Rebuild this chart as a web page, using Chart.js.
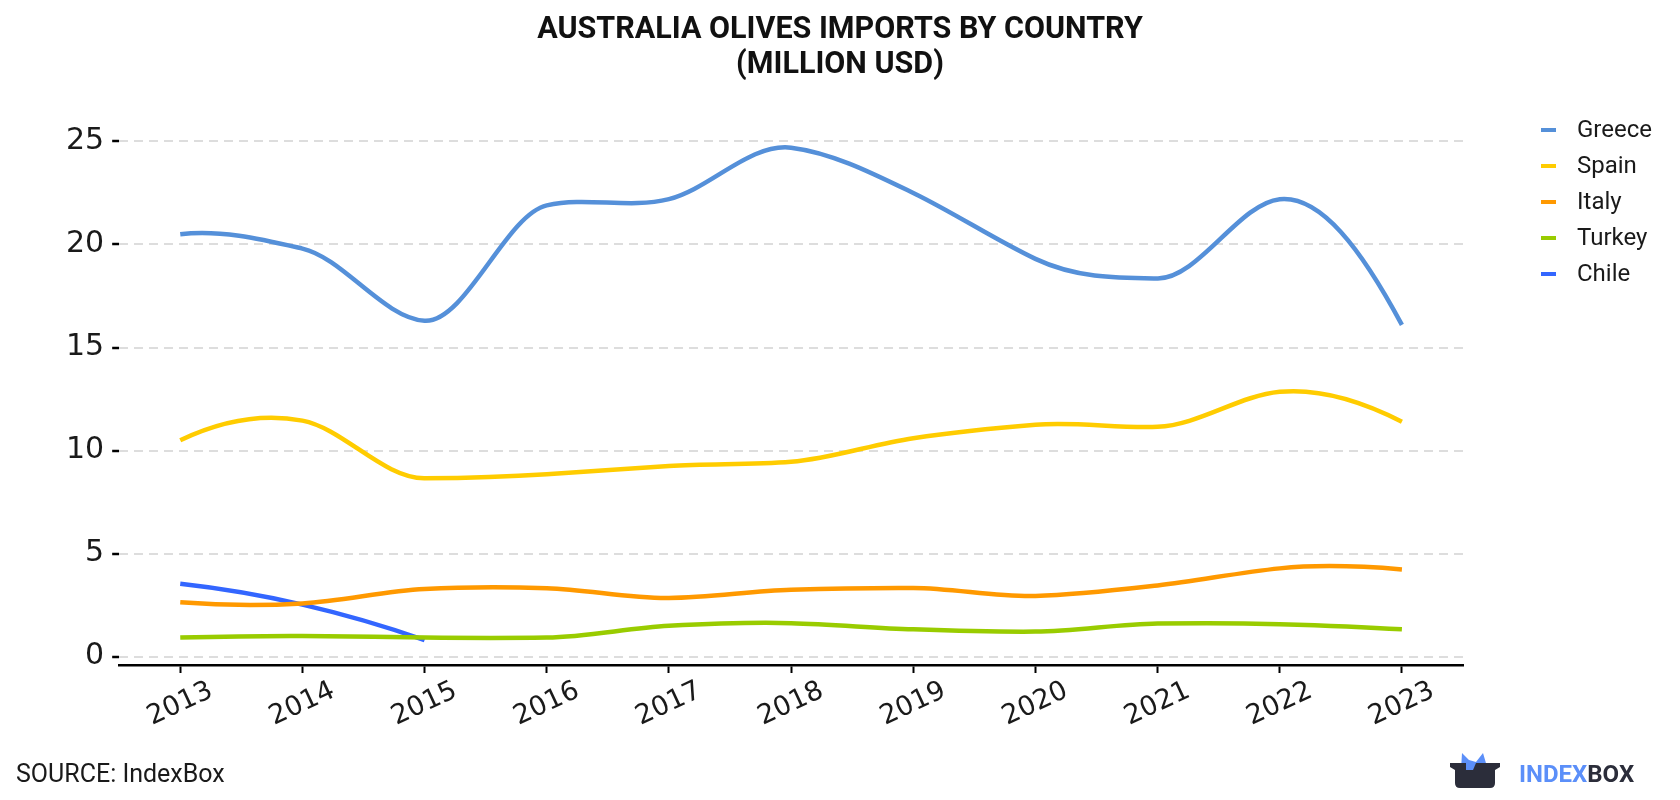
<!DOCTYPE html>
<html>
<head>
<meta charset="utf-8">
<title>Australia Olives Imports by Country</title>
<script src="https://cdn.jsdelivr.net/npm/chart.js@4/dist/chart.umd.min.js"></script>
<style>
  html, body { margin: 0; padding: 0; background: #fff; }
  #wrap { width: 1680px; height: 800px; }
</style>
</head>
<body>
<div id="wrap"><canvas id="chart" width="1680" height="800"></canvas></div>
<script>
// values (million USD)
const years = ['2013', '2014', '2015', '2016', '2017', '2018', '2019', '2020', '2021', '2022', '2023'];
const greece = [20.5, 19.8, 16.3, 21.9, 22.2, 24.7, 22.5, 19.3, 18.35, 22.2, 16.1];
const spain = [10.5, 11.45, 8.65, 8.85, 9.25, 9.45, 10.6, 11.25, 11.15, 12.85, 11.4];
const italy = [2.63, 2.58, 3.28, 3.32, 2.84, 3.24, 3.33, 2.94, 3.45, 4.28, 4.23];
const turkey = [0.92, 1.0, 0.92, 0.92, 1.49, 1.62, 1.32, 1.21, 1.6, 1.57, 1.32];
const chile = [3.53, 2.52, 0.8];
const yTicks = [0, 5, 10, 15, 20, 25];

const seriesNames = ['Greece', 'Spain', 'Italy', 'Turkey', 'Chile'];
const seriesColors = ['#5590d9', '#ffcc00', '#ff9900', '#99cc00', '#3366ff'];
const seriesData = [greece, spain, italy, turkey, chile];
const titleLines = ['AUSTRALIA OLIVES IMPORTS BY COUNTRY', '(MILLION USD)'];

const ctx = document.getElementById('chart');

// the reference curves look like an Akima spline, so the bezier control
// points of chart.js's own line are replaced with Akima tangents
const akimaCurves = {
    id: 'akimaCurves',
    beforeDatasetsDraw(chart) {
        chart.data.datasets.forEach((ds, di) => {
            const meta = chart.getDatasetMeta(di);
            const pts = meta.data.filter(p => !p.skip);
            const n = pts.length;
            if (n < 3) return;
            const m = [];
            for (let i = 0; i < n - 1; i++) {
                m.push((pts[i + 1].y - pts[i].y) / (pts[i + 1].x - pts[i].x));
            }
            // extend the slopes two steps on each side
            const mm = m.slice();
            const a = 2 * m[0] - m[1];
            const b = 2 * a - m[0];
            const c1 = 2 * m[n - 2] - m[n - 3];
            const c2 = 2 * c1 - m[n - 2];
            mm.unshift(b, a);
            mm.push(c1, c2);
            // slope j in m is mm[j + 2]
            const t = [];
            for (let i = 0; i < n; i++) {
                const m1 = mm[i], m2 = mm[i + 1], m3 = mm[i + 2], m4 = mm[i + 3];
                const w1 = Math.abs(m4 - m3), w2 = Math.abs(m2 - m1);
                t.push(w1 + w2 === 0 ? (m2 + m3) / 2 : (w1 * m2 + w2 * m3) / (w1 + w2));
            }
            for (let i = 0; i < n; i++) {
                const p = pts[i];
                const hPrev = i > 0 ? (p.x - pts[i - 1].x) / 3 : 0;
                const hNext = i < n - 1 ? (pts[i + 1].x - p.x) / 3 : 0;
                p.cp1x = p.x - hPrev;
                p.cp1y = p.y - t[i] * hPrev;
                p.cp2x = p.x + hNext;
                p.cp2y = p.y + t[i] * hNext;
            }
            meta.dataset._pointsUpdated = true;
            meta.dataset._path = undefined;
        });
    }
};

// title, legend, source line and logo drawn on the canvas around the chart
const extras = {
    id: 'extras',
    afterDraw(chart) {
        const c = chart.ctx;
        const area = chart.chartArea;
        c.save();
        // title, centred on the whole canvas
        c.fillStyle = '#111';
        c.font = 'bold 30.5px Roboto';
        c.textAlign = 'center';
        c.textBaseline = 'middle';
        titleLines.forEach((t, i) => c.fillText(t, chart.width / 2, 30 + i * 35));
        // legend
        const lx = area.right + 78;
        c.textAlign = 'left';
        chart.data.datasets.forEach((ds, i) => {
            const ly = area.top + 25 + i * 36;
            c.strokeStyle = ds.borderColor;
            c.lineWidth = 4;
            c.beginPath();
            c.moveTo(lx, ly);
            c.lineTo(lx + 15, ly);
            c.stroke();
            c.fillStyle = '#1a1a1a';
            c.font = '24px Roboto';
            c.fillText(ds.label, lx + 36, ly + 1);
        });
        // source
        c.fillStyle = '#1a1a1a';
        c.font = '25px Roboto';
        c.fillText('SOURCE: IndexBox', 16, 776);
        // logo icon
        c.fillStyle = '#5b8ff9';
        c.beginPath();
        c.moveTo(1461, 770);
        c.lineTo(1462, 753);
        c.lineTo(1469, 760);
        c.lineTo(1476, 762);
        c.lineTo(1483, 753);
        c.lineTo(1488, 770);
        c.closePath();
        c.fill();
        c.fillStyle = '#2b2d3a';
        c.beginPath();
        c.moveTo(1450, 763);
        c.lineTo(1500, 763);
        c.lineTo(1500, 767);
        c.lineTo(1495, 770);
        c.lineTo(1495, 783);
        c.quadraticCurveTo(1495, 788, 1490, 788);
        c.lineTo(1460, 788);
        c.quadraticCurveTo(1455, 788, 1455, 783);
        c.lineTo(1455, 770);
        c.lineTo(1450, 767);
        c.closePath();
        c.fill();
        c.fillStyle = '#5b8ff9';
        c.beginPath();
        c.moveTo(1466, 763);
        c.lineTo(1476, 763);
        c.lineTo(1473, 770);
        c.lineTo(1466, 770);
        c.closePath();
        c.fill();
        // logo text
        c.font = 'bold 24px Roboto';
        c.fillStyle = '#5b8ff9';
        c.fillText('INDEX', 1519, 776);
        const w = c.measureText('INDEX').width;
        c.fillStyle = '#2b2d3a';
        c.fillText('BOX', 1519 + w, 776);
        c.restore();
    }
};

const mainChart = new Chart(ctx, {
    type: 'line',
    data: {
        labels: years,
        datasets: seriesNames.map((name, i) => ({
            label: name,
            data: seriesData[i],
            borderColor: seriesColors[i],
            backgroundColor: 'transparent',
            borderWidth: 4.5,
            pointRadius: 0,
            tension: 0.4,
            fill: false,
        })),
    },
    options: {
        responsive: false,
        animation: false,
        devicePixelRatio: 1,
        layout: {
            padding: {left: 58, right: 217, top: 105, bottom: 65}
        },
        plugins: {
            legend: {display: false},
            tooltip: {enabled: false},
            title: {display: false},
        },
        scales: {
            x: {
                offset: true,
                afterFit: (axis) => { axis.height = 70; },
                grid: {
                    display: true,
                    drawOnChartArea: false,
                    tickLength: 8,
                    tickColor: '#000',
                    tickWidth: 2,
                },
                border: {display: true, color: '#000', width: 2.5},
                ticks: {
                    minRotation: 25,
                    maxRotation: 25,
                    labelOffset: 31,
                    padding: 2,
                    color: '#1a1a1a',
                    font: {family: 'DejaVu Sans', size: 27},
                },
            },
            y: {
                min: -0.41,
                max: 26.77,
                afterBuildTicks: (axis) => {
                    axis.ticks = yTicks.map(v => ({value: v}));
                },
                grid: {
                    color: '#dddddd',
                    lineWidth: 2,
                    tickColor: '#000',
                    tickLength: 7,
                    tickWidth: 2.5,
                },
                border: {display: false, dash: [9, 6]},
                ticks: {
                    padding: 8,
                    color: '#1a1a1a',
                    font: {family: 'DejaVu Sans', size: 30},
                },
            },
        },
    },
    plugins: [akimaCurves, extras],
});
</script>
</body>
</html>
